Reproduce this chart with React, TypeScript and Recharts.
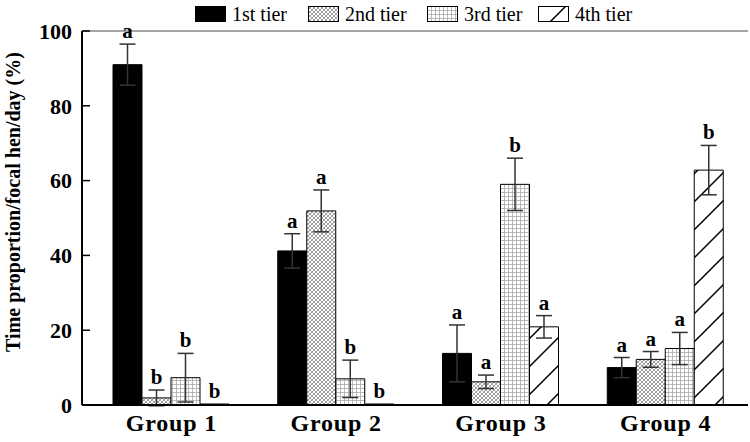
import { Bar, BarChart, ErrorBar, LabelList, ReferenceLine, XAxis, YAxis } from "recharts";

const groups = ["Group 1", "Group 2", "Group 3", "Group 4"];
const tier1 = [91, 41.2, 13.8, 10];
const tier1Err = [5.5, 4.6, 7.6, 2.7];
const tier2 = [1.9, 51.9, 6.2, 12.2];
const tier2Err = [2.1, 5.6, 1.8, 2.1];
const tier3 = [7.3, 7, 59, 15.1];
const tier3Err = [6.5, 5, 7, 4.3];
const tier4 = [0, 0, 20.9, 62.8];
const tier4Err = [0, 0, 3, 6.6];
const letters1 = ["a", "a", "a", "a"];
const letters2 = ["b", "a", "a", "a"];
const letters3 = ["b", "b", "b", "a"];
const letters4 = ["b", "b", "a", "b"];
const yTicks = [0, 20, 40, 60, 80, 100];
const boundaryTicks = [0, 1, 2, 3, 4];

const data = groups.map((g, i) => ({
  group: g,
  t1: tier1[i], e1: tier1Err[i], l1: letters1[i],
  t2: tier2[i], e2: tier2Err[i], l2: letters2[i],
  t3: tier3[i], e3: tier3Err[i], l3: letters3[i],
  t4: tier4[i], e4: tier4Err[i], l4: letters4[i],
}));

const W = 750;
const H = 442;
const margin = { top: 31, right: 2, bottom: 7, left: 0 };
const plotH = H - margin.top - margin.bottom - 30;
const pxPerUnit = plotH / 100;
const serif = "'Liberation Serif', 'Times New Roman', serif";

// label value carries "letter|error" so it doesn't depend on index
const letterLabel = (props: any) => {
  const { x, y, width, value } = props;
  const [letter, err] = String(value).split("|");
  const top = Number(y) - Number(err) * pxPerUnit;
  return (
    <text x={Number(x) + Number(width) / 2} y={top - 6} textAnchor="middle"
      fontFamily={serif} fontWeight="bold" fontSize={21} fill="#000">
      {letter}
    </text>
  );
};

const YTitle = (props: any) => {
  const vb = props.viewBox || {};
  const cy = Number(vb.y) + Number(vb.height) / 2 - 16;
  return (
    <text x={20} y={cy} transform={`rotate(-90 20 ${cy})`} textAnchor="middle"
      fontFamily={serif} fontWeight="bold" fontSize={20} fill="#000">
      Time proportion/focal hen/day (%)
    </text>
  );
};

const series = [
  { key: "t1", err: "e1", lab: "l1", fill: "#000", name: "1st tier" },
  { key: "t2", err: "e2", lab: "l2", fill: "url(#pat2)", name: "2nd tier" },
  { key: "t3", err: "e3", lab: "l3", fill: "url(#pat3)", name: "3rd tier" },
  { key: "t4", err: "e4", lab: "l4", fill: "url(#pat4)", name: "4th tier" },
];
const legendX = [195, 308, 427, 538];

export default function App() {
  return (
    <div style={{ position: "absolute", left: 0, top: 0, width: W, height: H, background: "#fff" }}>
      <BarChart width={W} height={H} data={data} margin={margin} barSize={29} barGap={0}>
        <defs>
          <pattern id="pat2" patternUnits="userSpaceOnUse" width="4" height="4">
            <rect width="4" height="4" fill="#fff" />
            <path d="M0,4 L4,0 M-1,1 L1,-1 M3,5 L5,3" stroke="#888" strokeWidth="0.9" />
            <path d="M0,0 L4,4 M-1,3 L1,5 M3,-1 L5,1" stroke="#999" strokeWidth="0.8" />
          </pattern>
          <pattern id="pat3" patternUnits="userSpaceOnUse" width="4" height="4">
            <rect width="4" height="4" fill="#fff" />
            <path d="M0,0.5 L4,0.5 M0.5,0 L0.5,4" stroke="#aaa" strokeWidth="0.8" />
          </pattern>
          <pattern id="pat4" patternUnits="userSpaceOnUse" width="28" height="28">
            <rect width="28" height="28" fill="#fff" />
            <path d="M0,28 L28,0 M-2,2 L2,-2 M26,30 L30,26" stroke="#000" strokeWidth="1.5" />
          </pattern>
        </defs>
        <XAxis xAxisId="num" type="number" domain={[0, 4]} ticks={boundaryTicks} allowDataOverflow
          height={0} padding={{ left: 7, right: 0 }} axisLine={false} tick={false}
          tickLine={{ stroke: "#000", strokeWidth: 1.5 }} tickSize={-6} />
        <XAxis xAxisId="cat" dataKey="group" height={30} padding={{ left: 7, right: 0 }}
          axisLine={{ stroke: "#000", strokeWidth: 2 }} tickLine={false} tickMargin={3}
          tick={{ fontFamily: serif, fontWeight: "bold", fontSize: 24, letterSpacing: 0.8, fill: "#000" }} />
        <YAxis domain={[0, 100]} ticks={yTicks} width={82} allowDataOverflow
          axisLine={{ stroke: "#000", strokeWidth: 2 }} tickLine={{ stroke: "#000", strokeWidth: 1.5 }}
          tickSize={-8} tickMargin={18}
          tick={{ fontFamily: serif, fontWeight: "bold", fontSize: 22, fill: "#000" }}
          label={<YTitle />} />
        <ReferenceLine y={100} xAxisId="cat" stroke="#888" strokeWidth={1.5} />
        <ReferenceLine x={4} xAxisId="num" stroke="#888" strokeWidth={1.5} />
        {series.map((s) => (
          <Bar key={s.key} xAxisId="cat" dataKey={s.key} fill={s.fill} stroke="#000" strokeWidth={1}
            minPointSize={1} isAnimationActive={false}>
            <ErrorBar dataKey={s.err} width={8} stroke="#333" strokeWidth={1.5} direction="y" />
            <LabelList dataKey={(d: any) => `${d[s.lab]}|${d[s.err]}`} content={letterLabel} />
          </Bar>
        ))}
      </BarChart>
      {series.map((s, i) => (
        <div key={s.key} style={{ position: "absolute", left: legendX[i], top: 4, display: "flex",
          alignItems: "center", fontFamily: serif, fontSize: 20, lineHeight: "20px" }}>
          <svg width={31} height={16}>
            <rect x={0.5} y={0.5} width={30} height={15} fill={s.fill} stroke="#000" strokeWidth={1} />
          </svg>
          <span style={{ marginLeft: 6 }}>{s.name}</span>
        </div>
      ))}
    </div>
  );
}
